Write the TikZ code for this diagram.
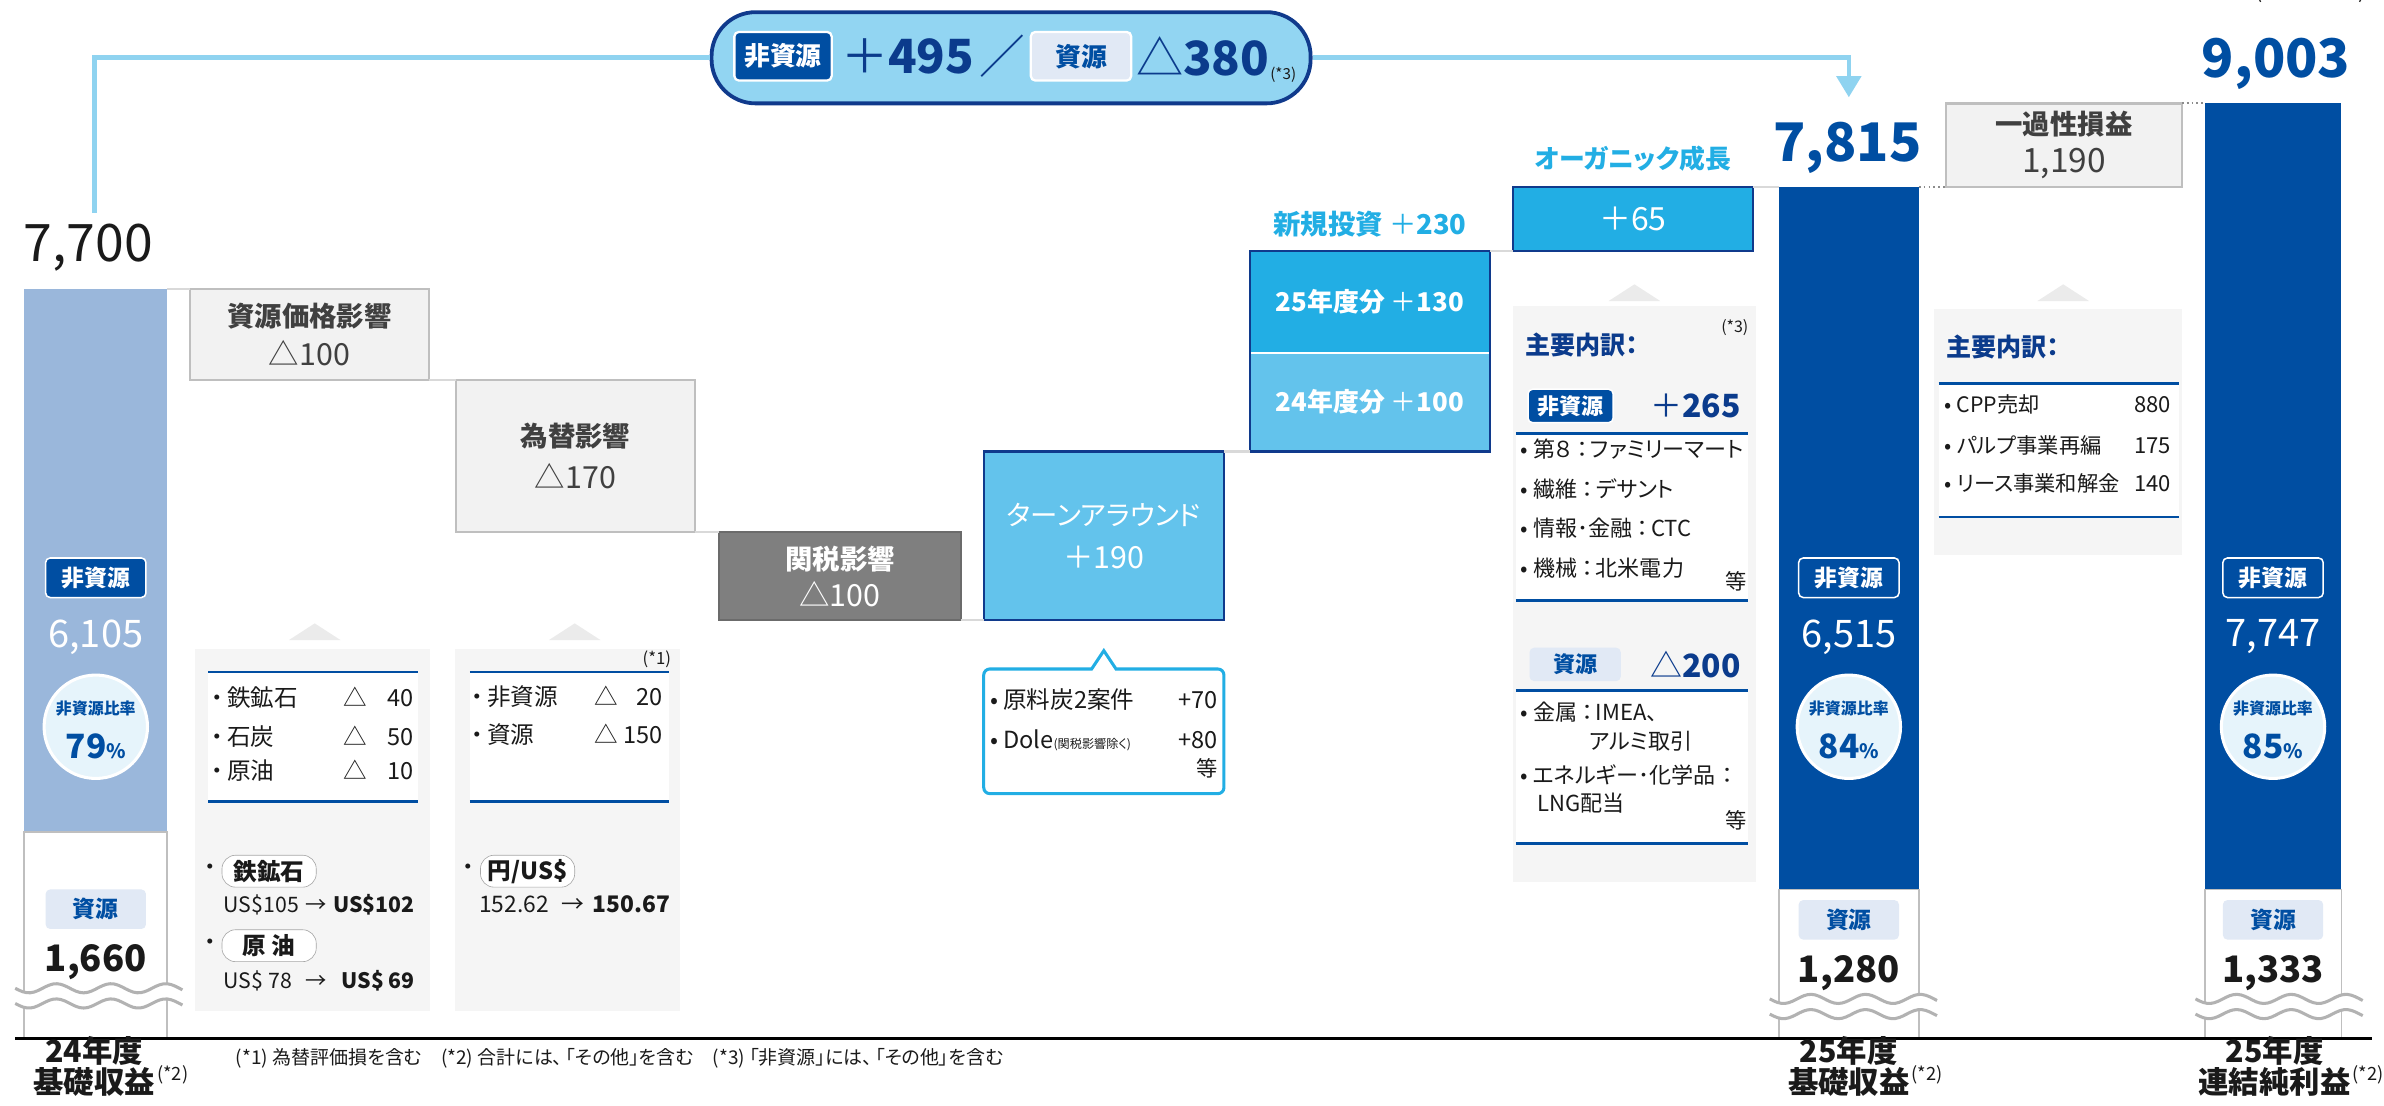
\documentclass[tikz,border=0pt]{standalone}
\usepackage{fontspec}
\setmainfont{Noto Sans CJK JP}[RawFeature=+palt]
\usetikzlibrary{arrows.meta,positioning}

\definecolor{navy}{HTML}{004EA2}
\definecolor{navytxt}{HTML}{0B3B8C}
\definecolor{cyanb}{HTML}{22AEE4}
\definecolor{cyanl}{HTML}{63C3EC}
\definecolor{pillfill}{HTML}{92D5F2}
\definecolor{pilledge}{HTML}{103A8C}
\definecolor{steel}{HTML}{9AB7DB}
\definecolor{boxgray}{HTML}{F2F2F2}
\definecolor{edgegray}{HTML}{BFBFBF}
\definecolor{darkbox}{HTML}{7F7F7F}
\definecolor{panel}{HTML}{F5F5F5}
\definecolor{circfill}{HTML}{E6F4FB}
\definecolor{restag}{HTML}{E1E9F5}
\definecolor{txtgray}{HTML}{404040}
\definecolor{ink}{HTML}{1A1A1A}
\definecolor{lineblue}{HTML}{8FD3F0}

\newcommand{\fsz}[1]{\fontsize{#1}{#1}\selectfont}

\tikzset{
  wfbox/.style={anchor=north west, inner sep=0pt, outer sep=0pt, align=center, line width=1.5pt},
  lvl/.style={draw=black!15, line width=1.5pt},
  dotlvl/.style={draw=black!45, line width=1.2pt, dotted},
  topline/.style={draw=lineblue, line width=3pt},
  tagnon/.style={fill=navy, draw=white, line width=1pt, rounded corners=3pt, text=white, inner sep=0pt, minimum width=66pt, minimum height=26pt, font=\bfseries\fsz{15}},
  tagres/.style={fill=restag, rounded corners=3pt, text=navy, inner sep=0pt, minimum width=66pt, minimum height=26pt, font=\bfseries\fsz{15}},
  ratio/.style={circle, fill=circfill, draw=white, line width=2pt, minimum size=68pt, inner sep=0pt},
  itm/.style={inner sep=0pt, text height=0.75em, text depth=0.15em, font=\fsz{15.5}, text=ink},
  rulebar/.style={draw=navy, line width=1.8pt},
  tri/.style={fill=black!8},
  pilltag/.style={draw=black!35, fill=white, rounded corners=9pt, minimum width=62pt, minimum height=21pt, inner sep=0pt, font=\bfseries\fsz{15.5}, text=ink},
  wave/.style={draw=black!30, line width=2pt},
  bignum/.style={inner sep=0pt, font=\bfseries\fsz{35}, text=navy},
  heading/.style={inner sep=0pt, font=\bfseries\fsz{16.5}, text=navytxt},
  yearlbl/.style={inner sep=0pt, text height=0.8em, text depth=0.1em, font=\bfseries\fsz{20}, text=ink}
}

\begin{document}
\begin{tikzpicture}[x=1pt, y=-1pt]
  \useasboundingbox (0,0) rectangle (1568,727);

  % unit, cut by the top edge
  \node[anchor=base, inner sep=0pt, font=\fsz{14}, text=ink] (unit) at (1520,-1) {(単位：億円)};

  % Draw the total bars
  \node[wfbox, fill=steel, minimum width=94pt, minimum height=357pt] (bar24) at (16,190) {};
  \node[wfbox, fill=white, draw=black!25, line width=1.2pt, minimum width=94pt, minimum height=136pt] (base24) at (16,547) {};
  \node[wfbox, fill=navy, minimum width=92pt, minimum height=462pt] (bar25) at (1170,123) {};
  \node[wfbox, fill=white, draw=black!25, line width=1.2pt, minimum width=92pt, minimum height=98pt] (base25) at (1170,585) {};
  \node[wfbox, fill=navy, minimum width=90pt, minimum height=517pt] (barnet) at (1450,68) {};
  \node[wfbox, fill=white, draw=black!25, line width=1.2pt, minimum width=90pt, minimum height=98pt] (basenet) at (1450,585) {};

  % Add the step boxes
  \node[wfbox, fill=boxgray, draw=edgegray, text=txtgray, font=\fontsize{18}{26}\selectfont, minimum width=157pt, minimum height=60pt] (price) at (125,190) {{\bfseries 資源価格影響}\\{\fsz{20}△100}};
  \node[wfbox, fill=boxgray, draw=edgegray, text=txtgray, font=\fontsize{18}{28}\selectfont, minimum width=157pt, minimum height=100pt] (fx) at (300,250) {{\bfseries 為替影響}\\{\fsz{20}△170}};
  \node[wfbox, fill=darkbox, draw=black!58, text=white, font=\fontsize{18}{24}\selectfont, minimum width=159pt, minimum height=58pt] (tariff) at (473,350) {{\bfseries 関税影響}\\{\fsz{20}△100}};
  \node[wfbox, fill=cyanl, draw=pilledge, text=white, font=\fontsize{18}{28}\selectfont, minimum width=158pt, minimum height=111pt] (turn) at (647,297) {ターンアラウンド\\{\fsz{20}＋190}};
  \node[wfbox, fill=cyanb, text=white, font=\bfseries\fsz{17}, minimum width=158pt, minimum height=67pt] (newA) at (822,165) {25年度分 {\mdseries ＋}130};
  \node[wfbox, fill=cyanl, text=white, font=\bfseries\fsz{17}, minimum width=158pt, minimum height=65pt] (newB) at (822,232) {24年度分 {\mdseries ＋}100};
  \draw[white, line width=1.5pt] (newB.north west) -- (newB.north east);
  \draw[pilledge, line width=1.5pt] (newA.north west) rectangle (newB.south east);
  \node[wfbox, fill=cyanb, draw=pilledge, text=white, font=\fsz{21}, minimum width=158pt, minimum height=42pt] (organic) at (995,123) {＋65};
  \node[wfbox, fill=boxgray, draw=edgegray, text=txtgray, font=\fontsize{18}{25}\selectfont, minimum width=155pt, minimum height=55pt] (ikka) at (1280,68) {{\bfseries 一過性損益}\\{\fsz{22}1,190}};

  % Level lines between the steps
  \draw[lvl] (bar24.north east) -- (price.north west);
  \draw[lvl] (price.south east) -- (fx.north west);
  \draw[lvl] (fx.south east) -- (tariff.north west);
  \draw[lvl] (tariff.south east) -- (turn.south west);
  \draw[lvl] (turn.north east) -- (newB.south west);
  \draw[lvl] (newA.north east) -- (organic.south west);
  \draw[lvl] (organic.north east) -- (bar25.north west);
  \draw[dotlvl] (bar25.north east) -- (ikka.south west);
  \draw[dotlvl] (ikka.north east) -- (barnet.north west);

  % Labels above the bars
  \node[inner sep=0pt, font=\fsz{34}, text=ink] (v24) at (58,163) {7,700};
  \node[bignum] (v25) at (1215,97) {7,815};
  \node[bignum] (vnet) at (1497,42) {9,003};
  \node[above=9pt of newA, inner sep=0pt, font=\bfseries\fsz{18}, text=cyanb] (newlbl) {新規投資 {\mdseries ＋}230};
  \node[above=10pt of organic, inner sep=0pt, font=\bfseries\fsz{17}, text=cyanb] (orglbl) {オーガニック成長};

  % Summary pill and its connector
  \node[fill=pillfill, draw=pilledge, line width=2.5pt, rounded corners=29pt, minimum width=394pt, minimum height=60pt, inner sep=0pt] (pill) at (665,38) {};
  \node[tagnon, minimum width=64pt, minimum height=32pt, line width=1.5pt, font=\bfseries\fsz{17}] (pillnon) at (515,37) {非資源};
  \node[inner sep=0pt, text=navytxt, font=\bfseries\fsz{31}] (pillplus) at (597,37) {{\mdseries ＋}495};
  \node[inner sep=0pt, text=navytxt, font=\fsz{30}] (pillsl) at (659,37) {／};
  \node[tagres, draw=white, line width=1.5pt, minimum width=66pt, minimum height=32pt, font=\bfseries\fsz{17}] (pillres) at (711,37) {資源};
  \node[inner sep=0pt, text=navytxt, font=\bfseries\fsz{31}] (pillminus) at (791,37) {{\mdseries △}380};
  \node[inner sep=0pt, text=ink, font=\fsz{10}] (pillnote) at (844,49) {(*3)};
  \coordinate (top24) at (62,140);
  \coordinate (tip25) at (1216,64);
  \draw[topline] (top24) |- (pill.west);
  \draw[topline, -{Triangle[width=16pt,length=14pt]}] (pill.east) -| (tip25);

  % Contents of the total bars
  \foreach \bx/\nv/\rt/\rv/\ry/\id in {63/{6,105}/79/{1,660}/0/a, 1216/{6,515}/84/{1,280}/7/b, 1495/{7,747}/85/{1,333}/7/c}{
    \node[tagnon] (non\id) at (\bx,380) {非資源};
    \node[inner sep=0pt, text=white, font=\fsz{25}] (nonv\id) at (\bx,419) {\nv};
    \node[ratio] (rt\id) at (\bx,478) {};
    \node[inner sep=0pt, text=navy, font=\bfseries\fsz{10.5}] (rtl\id) at (\bx,466) {非資源比率};
    \node[inner sep=0pt, text=navy, font=\bfseries\fsz{22}] (rtv\id) at (\bx,491) {\rt{\fsz{13}\%}};
    \node[tagres] (res\id) at (\bx,598+\ry) {資源};
    \node[inner sep=0pt, text=ink, font=\bfseries\fsz{24}] (resv\id) at (\bx,633+\ry) {\rv};
  }

  % Add the break marks
  \foreach \wx/\wy in {10/650, 1164/657, 1444/657}{
    \fill[white] plot[domain=0:110, samples=45] ({\wx+\x},{\wy+3*sin(\x*10)}) -- plot[domain=110:0, samples=45] ({\wx+\x},{\wy+10+3*sin(\x*10)}) -- cycle;
    \draw[wave] plot[domain=0:110, samples=45] ({\wx+\x},{\wy+3*sin(\x*10)});
    \draw[wave] plot[domain=0:110, samples=45] ({\wx+\x},{\wy+10+3*sin(\x*10)});
  }

  % Axis and bottom labels
  \draw[black, line width=2pt] (10,683) -- (1560,683);
  \node[yearlbl] (yr24) at (62,695) {24年度};
  \node[yearlbl] (lb24) at (62,716) {基礎収益};
  \node[inner sep=0pt, font=\fsz{12}, text=ink, anchor=west] (n24) at ([xshift=1pt,yshift=9pt]lb24.east) {(*2)};
  \node[yearlbl] (yr25) at (1216,695) {25年度};
  \node[yearlbl] (lb25) at (1216,716) {基礎収益};
  \node[inner sep=0pt, font=\fsz{12}, text=ink, anchor=west] (n25) at ([xshift=1pt,yshift=9pt]lb25.east) {(*2)};
  \node[yearlbl] (yrnet) at (1496,695) {25年度};
  \node[yearlbl] (lbnet) at (1496,716) {連結純利益};
  \node[inner sep=0pt, font=\fsz{12}, text=ink, anchor=west] (nnet) at ([xshift=1pt,yshift=9pt]lbnet.east) {(*2)};
  \node[anchor=west, inner sep=0pt, text height=0.8em, text depth=0.15em, font=\fsz{12.5}, text=ink] (notes) at (155,697) {(*1) 為替評価損を含む\quad (*2) 合計には、\,「その他」を含む\quad (*3) 「非資源」には、\,「その他」を含む};

  % Panel under the price effect
  \fill[panel] (128,427) rectangle (283,665);
  \fill[tri] (190,421) -- (207,410) -- (224,421) -- cycle;
  \fill[white] (137,442) rectangle (275,527);
  \draw[rulebar] (137,442) -- (275,442);
  \draw[rulebar] (137,527) -- (275,527);
  \foreach \nm/\vl/\yy in {鉄鉱石/40/462, 石炭/50/487, 原油/10/510}{
    \node[itm, anchor=west] (pn\yy) at (139,\yy) {・\,\nm};
    \node[itm, anchor=west] (pt\yy) at (226,\yy) {△};
    \node[itm, anchor=east] (pv\yy) at (272,\yy) {\vl};
  }
  \node[itm, anchor=west] (dotore) at (134,573) {・};
  \node[pilltag] (ore) at (177,573) {鉄鉱石};
  \node[itm, anchor=west, font=\fsz{14}] (oreA) at (147,597) {US\$105};
  \node[itm, font=\fsz{14}] (oreR) at (208,597) {→};
  \node[itm, anchor=east, font=\bfseries\fsz{14}] (oreB) at (273,597) {US\$102};
  \node[itm, anchor=west] (dotoil) at (134,622) {・};
  \node[pilltag] (oil) at (177,622) {原\ 油};
  \node[itm, anchor=west, font=\fsz{14}] (oilA) at (147,647) {US\$ 78};
  \node[itm, font=\fsz{14}] (oilR) at (208,647) {→};
  \node[itm, anchor=east, font=\bfseries\fsz{14}] (oilB) at (273,647) {US\$ 69};

  % Panel under the FX effect
  \fill[panel] (299,427) rectangle (447,665);
  \fill[tri] (361,421) -- (378,410) -- (395,421) -- cycle;
  \node[itm, font=\fsz{11}] (fxnote) at (432,434) {(*1)};
  \fill[white] (309,442) rectangle (440,527);
  \draw[rulebar] (309,442) -- (440,442);
  \draw[rulebar] (309,527) -- (440,527);
  \foreach \nm/\vl/\yy in {非資源/20/461, 資源/150/486}{
    \node[itm, anchor=west] (fn\yy) at (310,\yy) {・\,\nm};
    \node[itm, anchor=west] (ft\yy) at (391,\yy) {△};
    \node[itm, anchor=east] (fv\yy) at (436,\yy) {\vl};
  }
  \node[itm, anchor=west] (dotyen) at (304,573) {・};
  \node[pilltag] (yen) at (347,573) {円/US\$};
  \node[itm, anchor=west, font=\fsz{15}] (yenA) at (315,597) {152.62};
  \node[itm, font=\fsz{15}] (yenR) at (377,597) {→};
  \node[itm, anchor=east, font=\bfseries\fsz{15}] (yenB) at (441,597) {150.67};

  % Callout under the turnaround
  \draw[cyanb, line width=2pt, fill=white] (700,440) [sharp corners] -- (718,440) -- (726,428) -- (734,440) [rounded corners=4pt] -- (805,440) -- (805,522) -- (647,522) -- (647,440) -- cycle;
  \node[itm, anchor=west] (coal) at (651,463) {• 原料炭2案件};
  \node[itm, anchor=east] (coalv) at (801,463) {+70};
  \node[itm, anchor=west] (dole) at (651,489) {• Dole{\fsz{8}(関税影響除く)}};
  \node[itm, anchor=east] (dolev) at (801,489) {+80};
  \node[itm, anchor=east, font=\fsz{14}] (toA) at (801,508) {等};

  % Panel under the organic growth
  \fill[panel] (995,201) rectangle (1155,580);
  \fill[tri] (1058,198) -- (1075,187) -- (1092,198) -- cycle;
  \node[heading, anchor=west] (mainA) at (1003,227) {主要内訳：};
  \node[itm, font=\fsz{10.5}] (orgnote) at (1141,216) {(*3)};
  \node[tagnon, minimum width=56pt, minimum height=22pt, font=\bfseries\fsz{14.5}] (orgnon) at (1033,267) {非資源};
  \node[inner sep=0pt, anchor=east, text=navytxt, font=\bfseries\fsz{21}] (orgnonv) at (1145,267) {{\mdseries ＋}265};
  \fill[white] (997,285) rectangle (1150,395);
  \draw[rulebar] (997,285) -- (1150,285);
  \draw[rulebar] (997,395) -- (1150,395);
  \foreach \ta/\tb/\yy in {第８/ファミリーマート/298, 繊維/デサント/324, 情報･金融/CTC/350, 機械/北米電力/376}{
    \node[itm, anchor=west, font=\fsz{14.5}] (on\yy) at (1000,\yy) {• \ta\hspace{3pt}：\hspace{2pt}\tb};
  }
  \node[itm, anchor=east, font=\fsz{14}] (toB) at (1149,385) {等};
  \node[tagres, minimum width=60pt, minimum height=22pt, font=\bfseries\fsz{14.5}] (orgres) at (1036,437) {資源};
  \node[inner sep=0pt, anchor=east, text=navytxt, font=\bfseries\fsz{21}] (orgresv) at (1145,437) {{\mdseries △}200};
  \fill[white] (997,454) rectangle (1150,555);
  \draw[rulebar] (997,454) -- (1150,454);
  \draw[rulebar] (997,555) -- (1150,555);
  \node[itm, anchor=west, font=\fsz{14.5}] (metal) at (1000,471) {• 金属\hspace{3pt}：\hspace{2pt}IMEA、};
  \node[itm, anchor=west, font=\fsz{14.5}] (metal2) at (1045,490) {アルミ取引};
  \node[itm, anchor=west, font=\fsz{14.5}] (energy) at (1000,512) {• エネルギー･化学品\hspace{4pt}：};
  \node[itm, anchor=west, font=\fsz{14.5}] (energy2) at (1011,531) {LNG配当};
  \node[itm, anchor=east, font=\fsz{14}] (toC) at (1149,542) {等};

  % Panel under the one-off items
  \fill[panel] (1272,203) rectangle (1435,365);
  \fill[tri] (1340,198) -- (1357,187) -- (1374,198) -- cycle;
  \node[heading, anchor=west] (mainB) at (1280,228) {主要内訳：};
  \fill[white] (1275,252) rectangle (1433,340);
  \draw[rulebar] (1275,252) -- (1433,252);
  \draw[rulebar] (1275,340) -- (1433,340);
  \foreach \tx/\vl/\yy in {CPP売却/880/268, パルプ事業再編/175/295, リース事業和解金/140/320}{
    \node[itm, anchor=west, font=\fsz{14}] (ik\yy) at (1279,\yy) {• \tx};
    \node[itm, anchor=east, font=\fsz{14.5}] (ikv\yy) at (1428,\yy) {\vl};
  }
\end{tikzpicture}
\end{document}
